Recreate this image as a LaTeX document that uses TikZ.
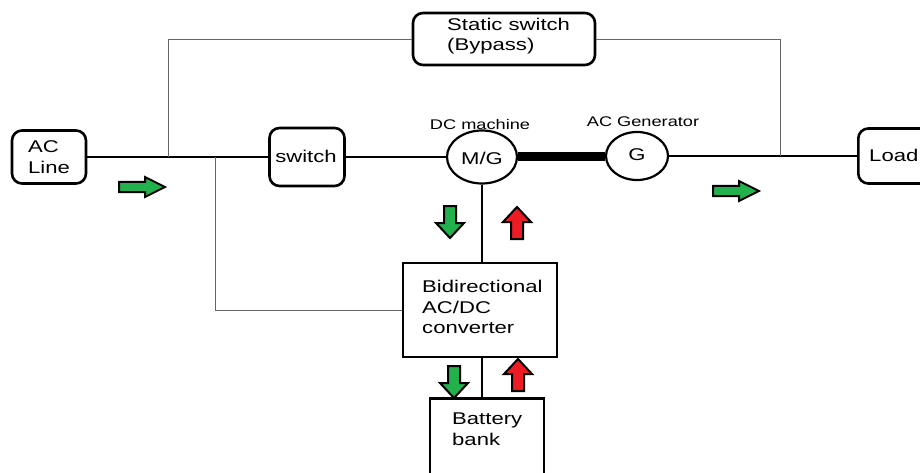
\documentclass[tikz,border=0pt]{standalone}
\usepackage{fontspec}
\setmainfont[FakeStretch=1.3]{Liberation Sans}
\usetikzlibrary{shapes.geometric}
\definecolor{pgreen}{RGB}{34,177,76}
\definecolor{pred}{RGB}{237,28,36}
\begin{document}
\begin{tikzpicture}[x=1pt,y=-1pt,
  rbox/.style={draw,line width=2.6pt,rounded corners=10pt,inner sep=0pt},
  sbox/.style={draw,line width=2.6pt,inner sep=0pt},
  mach/.style={draw,line width=2.2pt,ellipse,inner sep=0pt},
  wire/.style={line width=2.4pt},
  gwire/.style={line width=0.8pt,black!60},
  lbl/.style={font=\fontsize{17}{20.5}\selectfont,align=left,inner sep=0pt},
  slbl/.style={font=\fontsize{14}{16}\selectfont,inner sep=0pt},
  rarr/.pic={\draw[line width=2pt,fill=#1] (0,-5)--(26,-5)--(26,-10)--(46,0)--(26,10)--(26,5)--(0,5)--cycle;},
  darr/.pic={\draw[line width=2pt,fill=#1] (-6,0)--(6,0)--(6,17)--(14,17)--(0,32)--(-14,17)--(-6,17)--cycle;},
  uarr/.pic={\draw[line width=2pt,fill=#1] (-6,0)--(6,0)--(6,-17)--(14,-17)--(0,-32)--(-14,-17)--(-6,-17)--cycle;}
]
\useasboundingbox (0,0) rectangle (920,473);
\clip (0,0) rectangle (920,473);
% boxes
\node[rbox,minimum width=74pt,minimum height=53pt] (acline) at (49,157) {};
\node[lbl,anchor=west] at (28,157) {AC\\Line};
\node[rbox,minimum width=75pt,minimum height=58pt] (sw) at (307,157) {};
\node[lbl,anchor=center] at (306,156) {switch};
\node[rbox,minimum width=182pt,minimum height=52pt] (static) at (504,39) {};
\node[lbl,anchor=west] at (447,36) {Static switch\\(Bypass)};
\node[rbox,minimum width=80pt,minimum height=55pt,anchor=west] (load) at (857,156) {};
\node[lbl,anchor=west] at (869,155) {Load};
\node[mach,minimum width=70pt,minimum height=53pt] (mg) at (482,157) {};
\node[lbl] at (482,158) {M/G};
\node[mach,minimum width=62pt,minimum height=48pt] (gen) at (637,156) {};
\node[lbl] at (637,155) {G};
\node[slbl] (dclbl) at (480,124) {DC machine};
\node[slbl] (aclbl) at (643,122) {AC Generator};
\node[sbox,minimum width=154pt,minimum height=94pt] (conv) at (480,310) {};
\node[lbl,anchor=west] at (422,307) {Bidirectional\\AC/DC\\converter};
\node[sbox,minimum width=114pt,minimum height=100pt,anchor=north] (batt) at (487,397) {};
\node[lbl,anchor=west] at (452,429) {Battery\\bank};
% coordinates
\coordinate (j1) at (168,157);
\coordinate (j2) at (215,157);
\coordinate (j3) at (780,156);
% wires
\draw[wire] (acline.east) -- (sw.west);
\draw[wire] (sw.east) -- (mg.west);
\draw[line width=9pt] (mg.east) -- (gen.west |- mg.east);
\draw[wire] (gen.east) -- (load.west);
\draw[wire] (mg.south) -- (conv.north -| mg.south);
\draw[wire] (conv.south -| mg.south) -- (batt.north -| mg.south);
\draw[gwire] (j1) |- (static.west);
\draw[gwire] (static.east) -| (j3);
\draw[gwire] (j2) |- (conv.west);
% arrows
\pic at (119,187) {rarr=pgreen};
\pic at (713,191) {rarr=pgreen};
\pic at (450,206) {darr=pgreen};
\pic at (517,239) {uarr=pred};
\pic at (454,366) {darr=pgreen};
\pic at (518,391) {uarr=pred};
\end{tikzpicture}
\end{document}
